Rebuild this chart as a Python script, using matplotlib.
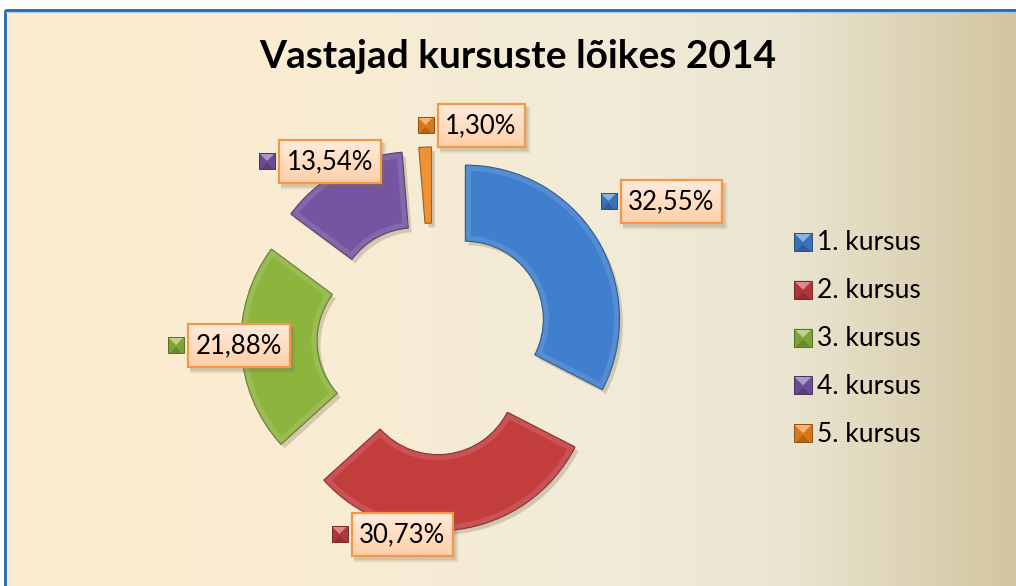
import numpy as np
import matplotlib
matplotlib.use("Agg")
import matplotlib.pyplot as plt
from matplotlib.patches import Rectangle, Polygon, Wedge
from matplotlib import patheffects as pe
from matplotlib.colors import to_rgb

# ---------------- data ----------------
categories = ["1. kursus", "2. kursus", "3. kursus", "4. kursus", "5. kursus"]
shares = [32.55, 30.73, 21.88, 13.54, 1.30]
title = "Vastajad kursuste lõikes 2014"
colors = ["#3F7FCD", "#C43D3D", "#8DB53E", "#7654A2", "#F0841C"]

# ---------------- layout (pixels) ----------------
W, H = 1016, 586
CX, CY, R = 433, 339, 154          # pie centre / radius in pixels
FONT = "Lato"

fig = plt.figure(figsize=(W / 100, H / 100), dpi=100)
fig.patch.set_facecolor("white")

# background axes (pixel coords)
bg = fig.add_axes([0, 0, 1, 1], zorder=0)
bg.set_xlim(0, W)
bg.set_ylim(H, 0)
bg.axis("off")
stops = [(0.0, (254, 236, 207)), (0.35, (248, 236, 211)), (0.6, (241, 235, 216)),
         (0.78, (234, 229, 208)), (1.0, (210, 197, 160))]
xs = np.linspace(0, 1, 512)
grad = np.zeros((1, 512, 3))
for ch in range(3):
    grad[0, :, ch] = np.interp(xs, [s[0] for s in stops], [s[1][ch] / 255 for s in stops])
bg.imshow(grad, extent=(4, W, H, 9), aspect="auto", interpolation="bilinear")
bg.add_patch(Rectangle((4.5, 9.5), W + 10, H + 10, fill=False, ec="#1F69B3", lw=2.0))
bg.plot([6, W], [11.5, 11.5], color="#A9C3DA", lw=0.8)

# pie axes: 1 data unit == R pixels
pa = fig.add_axes([0, 0, 1, 1], zorder=1)
pa.patch.set_alpha(0)
wedges, _ = pa.pie(shares, colors=colors, startangle=90, counterclock=False,
                   explode=[38 / R] * len(shares), radius=1.0,
                   wedgeprops=dict(width=76 / R, linewidth=0.9))
for w, c in zip(wedges, colors):
    rgb = np.array(to_rgb(c))
    w.set_edgecolor(tuple(rgb * 0.65))
    w.set_path_effects([pe.SimplePatchShadow(offset=(2.5, -3), alpha=0.25, shadow_rgbFace="#6b5f45"),
                        pe.Normal()])
    # bevel: light inner rim clipped to the wedge
    rim = Wedge(w.center, w.r, w.theta1, w.theta2, width=w.width, fill=False,
                ec=tuple(rgb + (1 - rgb) * 0.45), lw=8, alpha=0.25, zorder=w.get_zorder() + 0.1)
    pa.add_patch(rim)
    rim.set_clip_path(w)
pa.set_aspect("auto")
pa.set_xlim(-CX / R, (W - CX) / R)
pa.set_ylim((CY - H) / R, CY / R)
pa.axis("off")

# overlay axes for annotations (pixel coords)
ov = fig.add_axes([0, 0, 1, 1], zorder=2)
ov.patch.set_alpha(0)
ov.set_xlim(0, W)
ov.set_ylim(H, 0)
ov.axis("off")


def bevel_marker(ax, xc, yc, s, color):
    rgb = np.array(to_rgb(color))
    light = tuple(rgb + (1 - rgb) * 0.4)
    dark = tuple(rgb * 0.75)
    edge = tuple(rgb * 0.6)
    h = s / 2
    x0, x1, y0, y1 = xc - h, xc + h, yc - h, yc + h
    ax.add_patch(Rectangle((x0, y0), s, s, fc=tuple(rgb * 0.9), ec="none"))
    ax.add_patch(Polygon([(x0, y0), (x1, y0), (xc, yc)], closed=True, fc=light, ec="none"))
    ax.add_patch(Polygon([(x0 + 2, y1), (x1 - 2, y1), (xc, yc + 2)], closed=True, fc=dark, ec="none"))
    ax.add_patch(Rectangle((x0, y0), s, s, fill=False, ec=edge, lw=0.7))


def label_box(ax, xc, yc, w, h, text):
    # soft shadow
    for k, a in zip(range(4, 0, -1), [0.05, 0.07, 0.09, 0.11]):
        ax.add_patch(Rectangle((xc - w / 2 + 2, yc - h / 2 + 3), w + k, h + k,
                               fc="#7a6a50", ec="none", alpha=a))
    g = np.linspace(0, 1, 64)[:, None]
    top = np.array([255, 236, 222]) / 255
    bot = np.array([255, 208, 168]) / 255
    img = top[None, None, :] * (1 - g[:, :, None]) + bot[None, None, :] * g[:, :, None]
    ax.imshow(img, extent=(xc - w / 2, xc + w / 2, yc + h / 2, yc - h / 2),
              aspect="auto", interpolation="bilinear", zorder=3)
    ax.add_patch(Rectangle((xc - w / 2, yc - h / 2), w, h, fill=False,
                           ec="#F79646", lw=1.6, zorder=4))
    ax.text(xc, yc + 1, text, ha="center", va="center", fontsize=18.5,
            family=FONT, color="black", zorder=5)


# data labels: box centre, box width
label_pos = [(671, 201, 101), (402, 534, 101), (239, 345, 102), (330, 161, 102), (481, 125, 87)]
for v, c, (bx, by, bw) in zip(shares, colors, label_pos):
    txt = f"{v:.2f}%".replace(".", ",")
    label_box(ov, bx, by, bw, 43, txt)
    bevel_marker(ov, bx - bw / 2 - 12, by, 16, c)

# legend
for i, (cat, c) in enumerate(zip(categories, colors)):
    y = 242 + i * 47.8
    bevel_marker(ov, 803, y, 18, c)
    ov.text(817, y + 1, cat, ha="left", va="center", fontsize=19, family=FONT, color="black")

# title
ov.text(518, 57, title, ha="center", va="center", fontsize=28, fontweight="bold",
        family=FONT, color="black")

fig.savefig("out.png", dpi=100, facecolor="white")
